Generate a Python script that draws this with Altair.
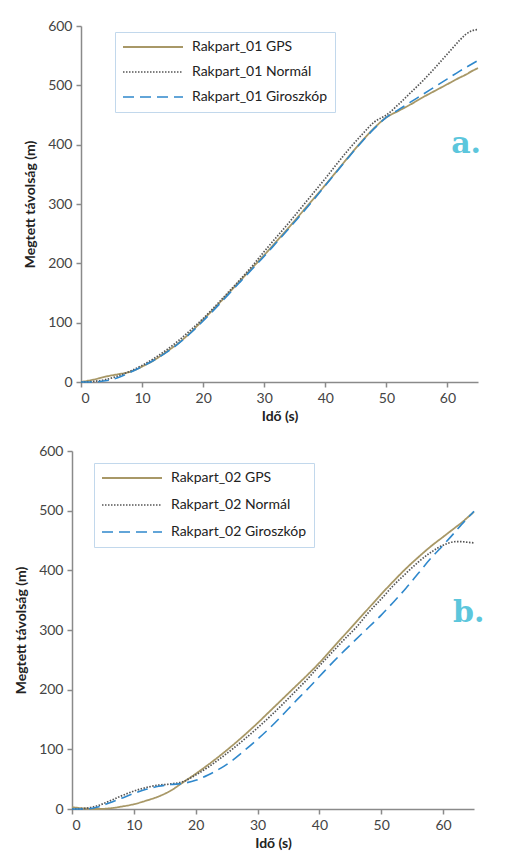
import altair as alt
import pandas as pd

# ---- data ----
t_a = [0, 2, 4, 6, 8, 10, 12, 14, 16, 18, 20, 22, 24, 26, 28, 30, 32, 34, 36, 38,
       40, 42, 44, 46, 48, 50, 52, 54, 56, 58, 60, 62, 63, 64, 65]
gps_a = [0, 4, 9, 13, 17, 26, 37, 51, 66, 84, 105, 126, 148, 170, 192, 214, 237, 260, 284, 308,
         332, 357, 382, 406, 428, 446, 457, 468, 480, 491, 502, 513, 518, 524, 529]
nor_a = [0, 1, 4, 10, 18, 28, 40, 54, 70, 88, 107, 128, 150, 172, 195, 220, 244, 268, 293, 318,
         343, 369, 394, 417, 438, 450, 468, 488, 508, 530, 553, 576, 586, 592, 594]
gyr_a = [0, 0, 2, 7, 16, 26, 37, 50, 65, 83, 103, 124, 146, 168, 190, 212, 235, 258, 282, 306,
         331, 356, 381, 405, 427, 446, 459, 472, 485, 498, 511, 524, 530, 536, 542]

t_b = [0, 2, 4, 6, 8, 10, 12, 14, 16, 18, 20, 22, 24, 26, 28, 30, 32, 34, 36, 38,
       40, 42, 44, 46, 48, 50, 52, 54, 56, 58, 60, 62, 63, 64, 65]
gps_b = [3, 1, 0, 1, 4, 8, 14, 21, 31, 45, 59, 74, 90, 107, 125, 144, 164, 184, 204, 224,
         245, 268, 291, 314, 337, 360, 382, 403, 422, 440, 456, 472, 480, 489, 498]
nor_b = [0, 1, 5, 13, 22, 30, 36, 40, 42, 46, 57, 70, 85, 101, 118, 136, 155, 175, 196, 217,
         240, 262, 284, 305, 330, 352, 375, 395, 414, 430, 442, 448, 448, 447, 446]
gyr_b = [0, 0, 3, 10, 18, 26, 33, 38, 41, 43, 48, 57, 68, 82, 99, 117, 136, 157, 179, 200,
         222, 244, 265, 285, 305, 325, 347, 370, 395, 420, 442, 465, 477, 488, 499]

x_ticks = [0, 10, 20, 30, 40, 50, 60]
y_ticks = [0, 100, 200, 300, 400, 500, 600]
suffixes = ["GPS", "Normál", "Giroszkóp"]
colors = ["#a89867", "#555555", "#2f88cc"]
dashes = [[1, 0], [1.5, 1.5], [11, 6]]
widths = [1.8, 1.6, 2.2]

FONT = "Lato"
FRAME = "#66c9dd"


def frame_rule(x, y1, y2, w):
    return alt.Chart(pd.DataFrame({"k": [0]})).mark_rule(
        color=FRAME, strokeWidth=w, strokeCap="butt", strokeJoin="round"
    ).encode(x=alt.value(x), y=alt.value(y1), y2=alt.value(y2))


def panel(t, series, prefix, width, height, xoff, label, label_t, label_v, lx, ly, rowpad,
          fy1, fy2):
    names = [f"{prefix} {s}" for s in suffixes]
    rows = []
    for name, vals in zip(names, series):
        for tt, vv in zip(t, vals):
            rows.append({"t": tt, "v": vv, "s": name})
    df = pd.DataFrame(rows)

    leg = alt.Legend(
        title=None, orient="none", legendX=lx, legendY=ly,
        symbolType="stroke", symbolSize=3600, symbolStrokeWidth=2, clipHeight=16,
        labelFont=FONT, labelFontSize=14, labelColor="#222222", labelOffset=8,
        padding=7, rowPadding=rowpad, strokeColor="#c2d8ec", fillColor="white",
        labelLimit=300,
    )
    lines = alt.Chart(df).mark_line(interpolate="monotone").encode(
        x=alt.X("t:Q",
                scale=alt.Scale(domain=[0, 65], range=[xoff, width], nice=False),
                axis=alt.Axis(values=x_ticks, title="Idő (s)")),
        y=alt.Y("v:Q",
                scale=alt.Scale(domain=[0, 600], nice=False),
                axis=alt.Axis(values=y_ticks, title="Megtett távolság (m)", offset=-xoff)),
        color=alt.Color("s:N", scale=alt.Scale(domain=names, range=colors), legend=leg,
                        sort=names),
        strokeDash=alt.StrokeDash("s:N", scale=alt.Scale(domain=names, range=dashes), legend=leg,
                                  sort=names),
        strokeWidth=alt.StrokeWidth("s:N", scale=alt.Scale(domain=names, range=widths), legend=None),
    )
    lab_df = pd.DataFrame({"t": [label_t], "v": [label_v], "txt": [label]})
    txt = alt.Chart(lab_df).mark_text(
        font="DejaVu Serif", fontWeight="bold", fontSize=30, color="#5cc6dc",
        align="left", baseline="alphabetic",
    ).encode(x="t:Q", y="v:Q", text="txt:N")
    left = frame_rule(-66.5, fy1, fy2, 1.5)
    return alt.layer(lines, txt, left).properties(width=width, height=height)


pa = panel(t_a, [gps_a, nor_a, gyr_a], "Rakpart_01", 406, 356, 9, "a.", 60.6, 386, 43, 6, 9,
           -16.2, 414.3)
pb = panel(t_b, [gps_b, nor_b, gyr_b], "Rakpart_02", 402, 358, 0, "b.", 61.6, 313, 22, 12, 11,
           -10, 400)

chart = alt.vconcat(pa, pb, spacing=-2).resolve_scale(
    color="independent", strokeDash="independent", strokeWidth="independent"
).resolve_legend(color="independent", strokeDash="independent").properties(
    padding={"left": -4, "top": 1, "right": 0, "bottom": 0},
    background="white",
).configure_view(stroke=None).configure_axis(
    grid=False, domainColor="#8a8a8a", domainWidth=1.5, tickColor="#8a8a8a",
    tickWidth=1.5, tickSize=5, labelFont=FONT, labelFontSize=14, labelColor="#444444",
    labelPadding=4, titleFont=FONT, titleFontSize=14, titleFontWeight="bold",
    titleColor="#222222",
).configure_axisY(titlePadding=10)

chart.save("out.html", embed_options={"renderer": "svg", "actions": False})
